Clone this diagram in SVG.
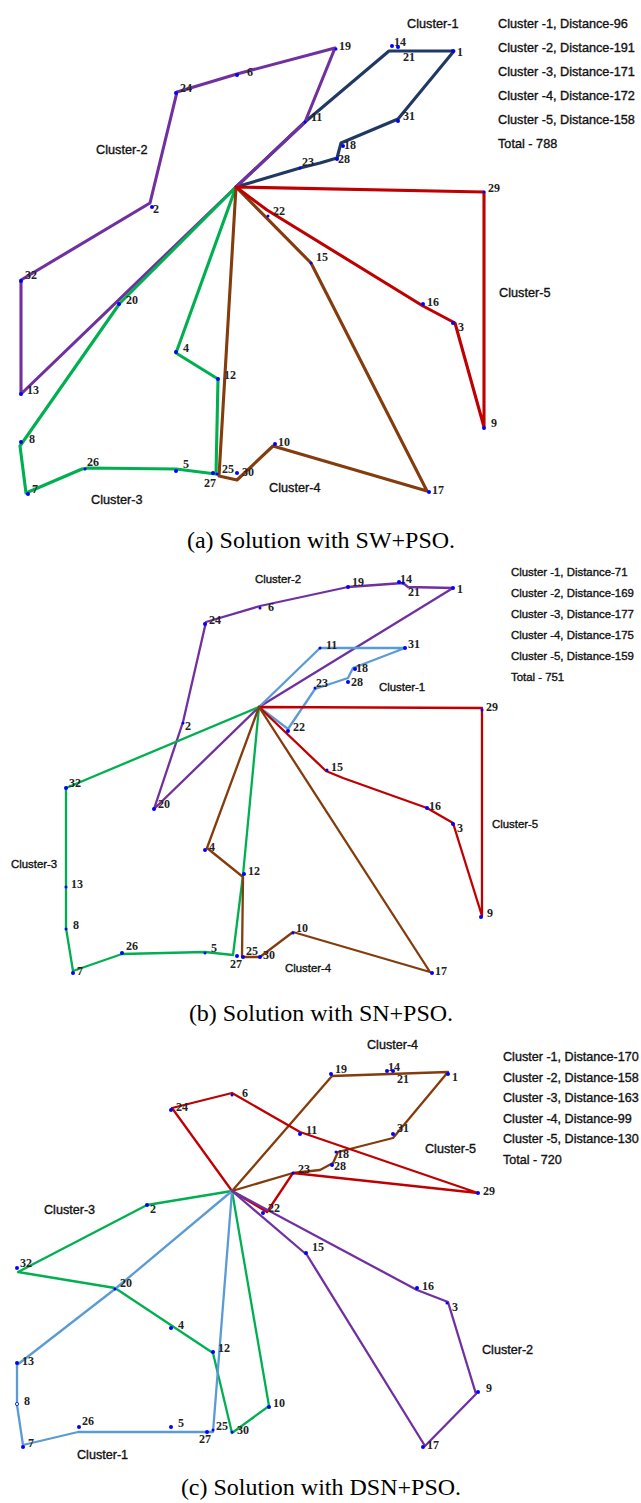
<svg xmlns="http://www.w3.org/2000/svg" width="641" height="1503" viewBox="0 0 641 1503">
<style>
.r{fill:none;stroke-linejoin:round;stroke-linecap:round}
.a{stroke-width:3.1}
.b{stroke-width:2.3}
.nv{stroke:#1f3864}.pu{stroke:#7030a0}.rd{stroke:#c00000}.gn{stroke:#00b050}.br{stroke:#843c0c}.lb{stroke:#5b9bd5}
.d{fill:#0000ff}
.n{font-family:"Liberation Serif","Times New Roman",serif;font-size:12px;font-weight:bold;fill:#222}
.c{font-family:"Liberation Sans",Arial,sans-serif;fill:#111;stroke:#111;stroke-width:0.35}
.cap{font-family:"Liberation Serif","Times New Roman",serif;font-size:24px;fill:#000;text-anchor:middle}
</style>
<rect width="641" height="1503" fill="#fff"/>

<!-- ===== Panel (a) ===== -->
<g id="connectors-a">
<polyline class="r a nv" points="236,187 305,122 389,51 454,51 398,119 341,143 337,158 320,163 300,168 236,187"/>
<polyline class="r a pu" points="236,187 305,122 335,48 237,74 177,92 150,203 21,280 21,394 236,187"/>
<polyline class="r a gn" points="236,187 120,303 20,446 26,493 82,469 88,468 176,469 216,474 218,379 176,353 236,187"/>
<polyline class="r a br" points="236,187 219,476 237,480 273,446 427,491 311,263 236,187"/>
<polyline class="r a rd" points="236,187 484,192 484,427 455,323 423,306 267,210 236,187"/>
</g>
<g id="nodes-a">
<g id="a-n1"><circle class="d" cx="453" cy="51" r="2"/><text class="n" x="457" y="56">1</text></g>
<g id="a-n14"><circle class="d" cx="392" cy="46" r="2"/><text class="n" x="394" y="46">14</text></g>
<g id="a-n21"><circle class="d" cx="398" cy="47" r="2"/><text class="n" x="403" y="61">21</text></g>
<g id="a-n31"><circle class="d" cx="398" cy="121" r="2"/><text class="n" x="403" y="120">31</text></g>
<g id="a-n18"><circle class="d" cx="343" cy="146" r="2"/><text class="n" x="344" y="149">18</text></g>
<g id="a-n28"><circle class="d" cx="337" cy="159" r="2"/><text class="n" x="338" y="163">28</text></g>
<g id="a-n23"><circle class="d" cx="300" cy="168" r="1.5"/><text class="n" x="302" y="166">23</text></g>
<g id="a-n11"><circle class="d" cx="305" cy="122" r="1.5"/><text class="n" x="311" y="121">11</text></g>
<g id="a-n19"><circle class="d" cx="336" cy="49" r="1.5"/><text class="n" x="339" y="50">19</text></g>
<g id="a-n6"><circle class="d" cx="237" cy="75" r="2"/><text class="n" x="247" y="76">6</text></g>
<g id="a-n24"><circle class="d" cx="176" cy="93" r="2"/><text class="n" x="180" y="92">24</text></g>
<g id="a-n2"><circle class="d" cx="152" cy="207" r="2"/><text class="n" x="153" y="213">2</text></g>
<g id="a-n32"><circle class="d" cx="21" cy="281" r="2"/><text class="n" x="25" y="279">32</text></g>
<g id="a-n13"><circle class="d" cx="21" cy="394" r="2"/><text class="n" x="27" y="394">13</text></g>
<g id="a-n20"><circle class="d" cx="119" cy="304" r="2"/><text class="n" x="126" y="304">20</text></g>
<g id="a-n8"><circle class="d" cx="21" cy="442" r="2"/><text class="n" x="29" y="443">8</text></g>
<g id="a-n7"><circle class="d" cx="28" cy="494" r="2"/><text class="n" x="32" y="493">7</text></g>
<g id="a-n26"><circle class="d" cx="85" cy="469" r="1.5"/><text class="n" x="87" y="466">26</text></g>
<g id="a-n5"><circle class="d" cx="176" cy="471" r="2"/><text class="n" x="183" y="468">5</text></g>
<g id="a-n27"><circle class="d" cx="213" cy="473" r="2"/><text class="n" x="204" y="487">27</text></g>
<g id="a-n25"><circle class="d" cx="217" cy="474" r="1.5"/><text class="n" x="222" y="473">25</text></g>
<g id="a-n12"><circle class="d" cx="218" cy="379" r="2"/><text class="n" x="224" y="379">12</text></g>
<g id="a-n4"><circle class="d" cx="176" cy="352" r="2"/><text class="n" x="183" y="352">4</text></g>
<g id="a-n30"><circle class="d" cx="237" cy="473" r="2"/><text class="n" x="242" y="476">30</text></g>
<g id="a-n10"><circle class="d" cx="275" cy="444" r="2"/><text class="n" x="278" y="446">10</text></g>
<g id="a-n17"><circle class="d" cx="429" cy="492" r="2"/><text class="n" x="432" y="494">17</text></g>
<g id="a-n15"><circle class="d" cx="311" cy="263" r="1.5"/><text class="n" x="316" y="261">15</text></g>
<g id="a-n16"><circle class="d" cx="423" cy="304" r="2"/><text class="n" x="427" y="306">16</text></g>
<g id="a-n3"><circle class="d" cx="453" cy="323" r="2"/><text class="n" x="458" y="331">3</text></g>
<g id="a-n9"><circle class="d" cx="484" cy="428" r="2"/><text class="n" x="491" y="427">9</text></g>
<g id="a-n29"><circle class="d" cx="484" cy="192" r="1.5"/><text class="n" x="488" y="192">29</text></g>
<g id="a-n22"><circle class="d" cx="268" cy="216" r="1.5"/><text class="n" x="273" y="215">22</text></g>
</g>
<g id="labels-a" class="c" font-size="12.7">
<text x="407" y="27.5">Cluster-1</text>
<text x="96" y="154">Cluster-2</text>
<text x="91" y="504">Cluster-3</text>
<text x="269" y="492">Cluster-4</text>
<text x="499" y="297">Cluster-5</text>
<text x="498" y="27.5">Cluster -1, Distance-96</text>
<text x="498" y="51.5">Cluster -2, Distance-191</text>
<text x="498" y="75.5">Cluster -3, Distance-171</text>
<text x="498" y="99.5">Cluster -4, Distance-172</text>
<text x="498" y="123.5">Cluster -5, Distance-158</text>
<text x="498" y="147.5">Total - 788</text>
</g>
<text class="cap" x="321" y="548">(a) Solution with SW+PSO.</text>

<!-- ===== Panel (b) ===== -->
<g id="connectors-b">
<polyline class="r b pu" points="259,707 154,809 183,722 206,622 260,606 348,587 403,583 408,587 453,588 259,707"/>
<polyline class="r b lb" points="259,707 320,648 405,648 353,668 348,678 315,689 288,729 259,707"/>
<polyline class="r b rd" points="259,707 482,708 482,916 453,823 427,808 343,778 326,771 259,707"/>
<polyline class="r b gn" points="259,707 66,788 66,928 73,971 122,954 205,952 233,955 243,875 259,707"/>
<polyline class="r b br" points="259,707 207,848 243,877 242,957 260,957 293,932 430,972 259,707"/>
</g>
<g id="nodes-b">
<g id="b-n1"><circle class="d" cx="453" cy="588" r="2"/><text class="n" x="457" y="593">1</text></g>
<g id="b-n14"><circle class="d" cx="399" cy="582" r="2"/><text class="n" x="400" y="583">14</text></g>
<g id="b-n21"><circle class="d" cx="403" cy="583" r="1.5"/><text class="n" x="408" y="596">21</text></g>
<g id="b-n19"><circle class="d" cx="348" cy="587" r="2"/><text class="n" x="352" y="586">19</text></g>
<g id="b-n6"><circle class="d" cx="260" cy="608" r="1.5"/><text class="n" x="268" y="611">6</text></g>
<g id="b-n24"><circle class="d" cx="205" cy="624" r="2"/><text class="n" x="209" y="624">24</text></g>
<g id="b-n2"><circle class="d" cx="183" cy="723" r="1.5"/><text class="n" x="185" y="730">2</text></g>
<g id="b-n20"><circle class="d" cx="154" cy="809" r="2"/><text class="n" x="158" y="808">20</text></g>
<g id="b-n11"><circle class="d" cx="320" cy="648" r="1.5"/><text class="n" x="326" y="649">11</text></g>
<g id="b-n31"><circle class="d" cx="405" cy="648" r="2"/><text class="n" x="408" y="648">31</text></g>
<g id="b-n18"><circle class="d" cx="355" cy="669" r="2"/><text class="n" x="356" y="672">18</text></g>
<g id="b-n28"><circle class="d" cx="348" cy="682" r="2"/><text class="n" x="351" y="686">28</text></g>
<g id="b-n23"><circle class="d" cx="315" cy="688" r="1.5"/><text class="n" x="316" y="687">23</text></g>
<g id="b-n22"><circle class="d" cx="288" cy="731" r="2"/><text class="n" x="293" y="731">22</text></g>
<g id="b-n29"><circle class="d" cx="482" cy="710" r="1.5"/><text class="n" x="486" y="711">29</text></g>
<g id="b-n9"><circle class="d" cx="481" cy="917" r="2"/><text class="n" x="487" y="917">9</text></g>
<g id="b-n3"><circle class="d" cx="453" cy="824" r="2"/><text class="n" x="457" y="832">3</text></g>
<g id="b-n16"><circle class="d" cx="427" cy="808" r="2"/><text class="n" x="429" y="810">16</text></g>
<g id="b-n15"><circle class="d" cx="327" cy="770" r="1.5"/><text class="n" x="331" y="771">15</text></g>
<g id="b-n17"><circle class="d" cx="432" cy="973" r="2"/><text class="n" x="435" y="975">17</text></g>
<g id="b-n10"><circle class="d" cx="293" cy="933" r="1.5"/><text class="n" x="296" y="932">10</text></g>
<g id="b-n30"><circle class="d" cx="260" cy="957" r="2"/><text class="n" x="263" y="959">30</text></g>
<g id="b-n25"><circle class="d" cx="243" cy="957" r="2"/><text class="n" x="246" y="955">25</text></g>
<g id="b-n27"><circle class="d" cx="237" cy="956" r="2"/><text class="n" x="230" y="968">27</text></g>
<g id="b-n12"><circle class="d" cx="244" cy="874" r="2"/><text class="n" x="248" y="875">12</text></g>
<g id="b-n4"><circle class="d" cx="205" cy="850" r="2"/><text class="n" x="209" y="851">4</text></g>
<g id="b-n5"><circle class="d" cx="205" cy="953" r="1.5"/><text class="n" x="211" y="952">5</text></g>
<g id="b-n26"><circle class="d" cx="122" cy="953" r="2"/><text class="n" x="126" y="950">26</text></g>
<g id="b-n7"><circle class="d" cx="73" cy="973" r="2"/><text class="n" x="77" y="975">7</text></g>
<g id="b-n8"><circle class="d" cx="66" cy="929" r="1.5"/><text class="n" x="73" y="929">8</text></g>
<g id="b-n13"><circle class="d" cx="66" cy="887" r="1.5"/><text class="n" x="71" y="888">13</text></g>
<g id="b-n32"><circle class="d" cx="66" cy="788" r="2"/><text class="n" x="69" y="787">32</text></g>
</g>
<g id="labels-b" class="c" font-size="11.4">
<text x="379" y="691">Cluster-1</text>
<text x="255" y="583">Cluster-2</text>
<text x="11" y="868">Cluster-3</text>
<text x="285" y="972">Cluster-4</text>
<text x="492" y="828">Cluster-5</text>
<text x="511" y="576">Cluster -1, Distance-71</text>
<text x="511" y="597">Cluster -2, Distance-169</text>
<text x="511" y="618">Cluster -3, Distance-177</text>
<text x="511" y="639">Cluster -4, Distance-175</text>
<text x="511" y="660">Cluster -5, Distance-159</text>
<text x="511" y="681">Total - 751</text>
</g>
<text class="cap" x="321" y="1021">(b) Solution with SN+PSO.</text>

<!-- ===== Panel (c) ===== -->
<g id="connectors-c">
<polyline class="r b br" points="232,1191 332,1076 390,1074 448,1072 393,1138 338,1152 333,1163 320,1170 293,1173 232,1191"/>
<polyline class="r b rd" points="232,1191 172,1108 232,1093 300,1132 478,1193 293,1173 267,1212 232,1191"/>
<polyline class="r b gn" points="232,1191 147,1205 18,1272 115,1288 213,1353 232,1433 269,1406 232,1191"/>
<polyline class="r b lb" points="232,1191 115,1289 17,1365 17,1405 23,1445 78,1432 213,1432 232,1191"/>
<polyline class="r b pu" points="232,1191 307,1255 425,1446 476,1394 448,1302 417,1290 232,1191"/>
</g>
<g id="nodes-c">
<g id="c-n24"><circle class="d" cx="171" cy="1110" r="2"/><text class="n" x="176" y="1111">24</text></g>
<g id="c-n6"><circle class="d" cx="232" cy="1095" r="1.5"/><text class="n" x="242" y="1097">6</text></g>
<g id="c-n11"><circle class="d" cx="300" cy="1134" r="2"/><text class="n" x="306" y="1134">11</text></g>
<g id="c-n19"><circle class="d" cx="331" cy="1074" r="2"/><text class="n" x="335" y="1073">19</text></g>
<g id="c-n14"><circle class="d" cx="387" cy="1071" r="2"/><text class="n" x="388" y="1071">14</text></g>
<g id="c-n21"><circle class="d" cx="393" cy="1071" r="2"/><text class="n" x="397" y="1083">21</text></g>
<g id="c-n1"><circle class="d" cx="448" cy="1074" r="2"/><text class="n" x="452" y="1081">1</text></g>
<g id="c-n31"><circle class="d" cx="393" cy="1134" r="2"/><text class="n" x="397" y="1132">31</text></g>
<g id="c-n18"><circle class="d" cx="336" cy="1152" r="1.5"/><text class="n" x="337" y="1158">18</text></g>
<g id="c-n28"><circle class="d" cx="332" cy="1165" r="2"/><text class="n" x="334" y="1170">28</text></g>
<g id="c-n23"><circle class="d" cx="293" cy="1173" r="1.5"/><text class="n" x="298" y="1173">23</text></g>
<g id="c-n29"><circle class="d" cx="478" cy="1193" r="2"/><text class="n" x="483" y="1195">29</text></g>
<g id="c-n22"><circle class="d" cx="263" cy="1213" r="2"/><text class="n" x="268" y="1212">22</text></g>
<g id="c-n2"><circle class="d" cx="147" cy="1205" r="2"/><text class="n" x="150" y="1213">2</text></g>
<g id="c-n32"><circle class="d" cx="17" cy="1268" r="2"/><text class="n" x="20" y="1267">32</text></g>
<g id="c-n20"><circle class="d" cx="115" cy="1289" r="1.5"/><text class="n" x="120" y="1287">20</text></g>
<g id="c-n4"><circle class="d" cx="171" cy="1328" r="2"/><text class="n" x="178" y="1329">4</text></g>
<g id="c-n12"><circle class="d" cx="213" cy="1352" r="2"/><text class="n" x="218" y="1352">12</text></g>
<g id="c-n10"><circle class="d" cx="269" cy="1407" r="2"/><text class="n" x="273" y="1407">10</text></g>
<g id="c-n30"><circle class="d" cx="232" cy="1432" r="1.5"/><text class="n" x="237" y="1434">30</text></g>
<g id="c-n13"><circle class="d" cx="17" cy="1363" r="2"/><text class="n" x="22" y="1365">13</text></g>
<g id="c-n8"><circle cx="17" cy="1404" r="1.6" fill="#fff" stroke="#0000ff" stroke-width="0.8"/><text class="n" x="24" y="1405">8</text></g>
<g id="c-n7"><circle class="d" cx="23" cy="1447" r="2"/><text class="n" x="28" y="1447">7</text></g>
<g id="c-n26"><circle class="d" cx="79" cy="1427" r="2"/><text class="n" x="82" y="1425">26</text></g>
<g id="c-n5"><circle class="d" cx="171" cy="1427" r="2"/><text class="n" x="178" y="1427">5</text></g>
<g id="c-n27"><circle class="d" cx="207" cy="1432" r="2"/><text class="n" x="199" y="1443">27</text></g>
<g id="c-n25"><circle class="d" cx="213" cy="1430" r="1.5"/><text class="n" x="216" y="1430">25</text></g>
<g id="c-n15"><circle class="d" cx="306" cy="1253" r="2"/><text class="n" x="312" y="1251">15</text></g>
<g id="c-n16"><circle class="d" cx="417" cy="1288" r="2"/><text class="n" x="422" y="1290">16</text></g>
<g id="c-n3"><circle class="d" cx="447" cy="1303" r="1.5"/><text class="n" x="452" y="1311">3</text></g>
<g id="c-n9"><circle class="d" cx="478" cy="1392" r="2"/><text class="n" x="486" y="1392">9</text></g>
<g id="c-n17"><circle class="d" cx="423" cy="1447" r="2"/><text class="n" x="427" y="1449">17</text></g>
</g>
<g id="labels-c" class="c" font-size="12.6">
<text x="77" y="1459">Cluster-1</text>
<text x="482" y="1354">Cluster-2</text>
<text x="44" y="1214">Cluster-3</text>
<text x="367" y="1049">Cluster-4</text>
<text x="425" y="1153">Cluster-5</text>
<text x="503" y="1061">Cluster -1, Distance-170</text>
<text x="503" y="1081.5">Cluster -2, Distance-158</text>
<text x="503" y="1102">Cluster -3, Distance-163</text>
<text x="503" y="1122.5">Cluster -4, Distance-99</text>
<text x="503" y="1143">Cluster -5, Distance-130</text>
<text x="503" y="1163.5">Total - 720</text>
</g>
<text class="cap" x="321" y="1495">(c) Solution with DSN+PSO.</text>
</svg>
